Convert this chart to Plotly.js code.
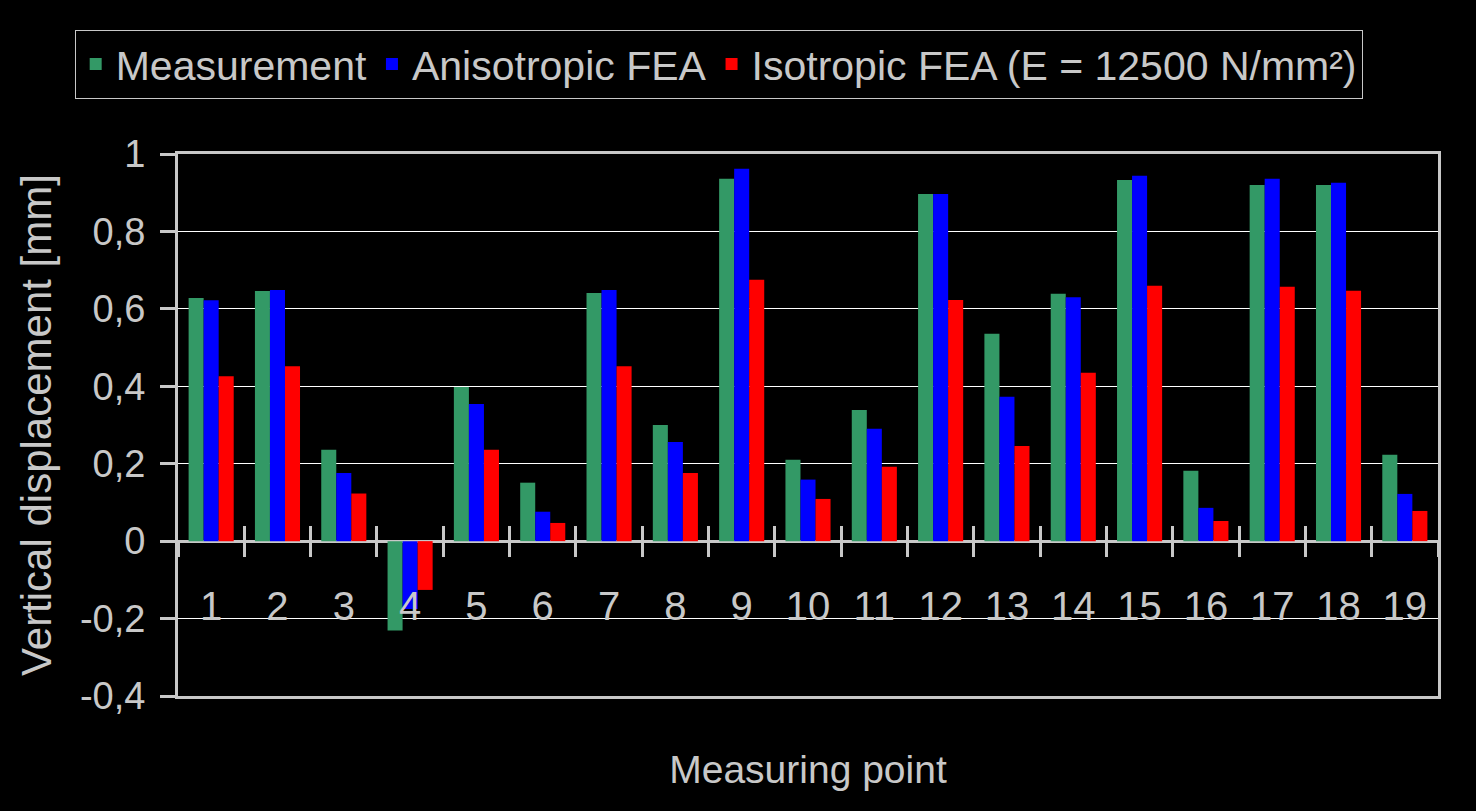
<!DOCTYPE html>
<html>
<head>
<meta charset="utf-8">
<script src="https://cdn.plot.ly/plotly-3.0.1.min.js"></script>
<style>
  html, body { margin: 0; padding: 0; background: #000; }
  #chart { width: 1476px; height: 811px; }
</style>
</head>
<body>
<div id="chart"></div>
<script>
const categories = ['1','2','3','4','5','6','7','8','9','10','11','12','13','14','15','16','17','18','19'];
const measurement = [0.628, 0.646, 0.236, -0.231, 0.398, 0.151, 0.641, 0.300, 0.936, 0.210, 0.339, 0.897, 0.536, 0.639, 0.933, 0.182, 0.920, 0.920, 0.223];
const anisotropicFEA = [0.622, 0.649, 0.176, -0.175, 0.354, 0.076, 0.649, 0.256, 0.962, 0.159, 0.290, 0.897, 0.373, 0.630, 0.944, 0.086, 0.936, 0.926, 0.122];
const isotropicFEA = [0.426, 0.452, 0.123, -0.126, 0.236, 0.047, 0.452, 0.176, 0.675, 0.109, 0.192, 0.623, 0.246, 0.435, 0.660, 0.052, 0.657, 0.647, 0.078];
const seriesNames = ['Measurement', 'Anisotropic FEA', 'Isotropic FEA (E = 12500 N/mm²)'];
const yTickVals = [-0.4, -0.2, 0, 0.2, 0.4, 0.6, 0.8, 1];
const yTickText = ['-0,4', '-0,2', '0', '0,2', '0,4', '0,6', '0,8', '1'];

const fg = '#c8c8c8';
const fontFam = 'Liberation Sans, Arial, sans-serif';
const n = categories.length;
const boundaries = [];
for (let i = 0; i <= n; i++) boundaries.push(i - 0.5);
const zeroPos = 0.4 / 1.4;

const traces = [
  {type: 'bar', name: seriesNames[0], x: categories, y: measurement, marker: {color: '#339966'}},
  {type: 'bar', name: seriesNames[1], x: categories, y: anisotropicFEA, marker: {color: '#0000ff'}},
  {type: 'bar', name: seriesNames[2], x: categories, y: isotropicFEA, marker: {color: '#ff0000'}},
  // empty helper traces so the frame axis and the upward tick axis get drawn
  {type: 'scatter', mode: 'markers', x: [], y: [], xaxis: 'x2', yaxis: 'y', showlegend: false, hoverinfo: 'skip'},
  {type: 'scatter', mode: 'markers', x: [], y: [], xaxis: 'x3', yaxis: 'y', showlegend: false, hoverinfo: 'skip'}
];

const layout = {
  width: 1476, height: 811,
  paper_bgcolor: '#000', plot_bgcolor: '#000',
  font: {family: fontFam, color: fg},
  margin: {l: 178, r: 38, t: 154, b: 115},
  barmode: 'group', bargap: 0.32, bargroupgap: 0,
  showlegend: true,
  legend: {
    orientation: 'h', x: -0.082, y: 1.229, xanchor: 'left', yanchor: 'top',
    bordercolor: fg, borderwidth: 1, bgcolor: '#000',
    font: {size: 41, color: fg, family: fontFam},
    itemwidth: 30, tracegroupgap: 0
  },
  xaxis: {
    type: 'category', anchor: 'free', position: zeroPos,
    range: [-0.5, n - 0.5],
    showline: false, showgrid: false, zeroline: false,
    ticks: 'outside', tickson: 'boundaries', ticklen: 15, tickwidth: 3, tickcolor: fg,
    tickfont: {size: 40, color: fg}, ticklabelstandoff: 38,
    title: {text: 'Measuring point', font: {size: 39, color: fg}, standoff: 128}
  },
  xaxis2: {
    overlaying: 'x', anchor: 'y', range: [-0.5, n - 0.5],
    showline: true, mirror: true, linewidth: 3, linecolor: fg,
    showgrid: false, zeroline: false, ticks: '', showticklabels: false
  },
  xaxis3: {
    overlaying: 'x', anchor: 'free', position: zeroPos, range: [-0.5, n - 0.5],
    showline: false, showgrid: false, zeroline: false,
    tickmode: 'array', tickvals: boundaries, ticks: 'inside', ticklen: 15, tickwidth: 3, tickcolor: fg,
    showticklabels: false
  },
  yaxis: {
    range: [-0.4, 1], tickmode: 'array', tickvals: yTickVals, ticktext: yTickText,
    showline: true, mirror: true, linewidth: 3, linecolor: fg,
    showgrid: true, gridcolor: '#ffffff', gridwidth: 1,
    zeroline: true, zerolinecolor: fg, zerolinewidth: 3,
    ticks: 'outside', ticklen: 15, tickwidth: 3, tickcolor: fg,
    tickfont: {size: 38, color: fg}, ticklabelstandoff: 7,
    title: {text: 'Vertical displacement [mm]', font: {size: 42, color: fg}, standoff: 16}
  }
};

Plotly.newPlot('chart', traces, layout, {displayModeBar: false, staticPlot: true});
</script>
</body>
</html>
